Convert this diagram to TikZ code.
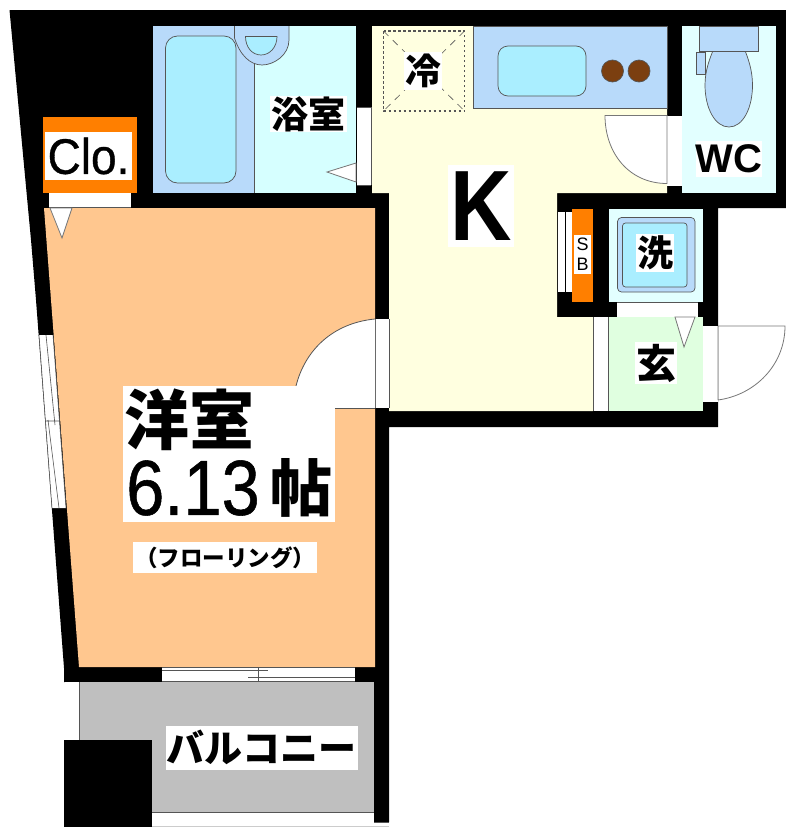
\documentclass[tikz,border=0pt]{standalone}
\usepackage{fontspec}
\setmainfont{Liberation Sans}
\newfontfamily\jp{Noto Sans CJK JP}
\newfontfamily\heavy[FakeBold=0.7]{Liberation Sans}
\definecolor{wall}{HTML}{000000}
\definecolor{floorO}{HTML}{FFC78F}
\definecolor{clo}{HTML}{FF7F00}
\definecolor{balc}{HTML}{BFBFBF}
\definecolor{kit}{HTML}{FFFFE0}
\definecolor{entry}{HTML}{E0FFE0}
\definecolor{fix}{HTML}{B8DAFA}
\definecolor{water}{HTML}{AAEEFF}
\definecolor{wet}{HTML}{D6FFFF}
\definecolor{edge}{HTML}{555555}
\definecolor{burner}{HTML}{7B3F10}
\tikzset{
  lab/.style={fill=white,inner sep=0pt,text=black,align=center},
  fx/.style={draw=edge,line width=0.7pt},
  door/.style={fill=white,draw=edge!80,line width=0.8pt},
  thin/.style={draw=edge,line width=0.6pt},
}
\newcommand{\fsz}[1]{\fontsize{#1}{#1}\selectfont}
\begin{document}
\begin{tikzpicture}[x=1pt,y=-1pt]
\useasboundingbox (0,0) rectangle (786,827);
\fill[white] (0,0) rectangle (786,827);
% walls
\fill[wall] (9.5,10) -- (786,10) -- (786,208) -- (718,208) -- (718,427) -- (389,427) -- (389,822) -- (374,822) -- (374,682) -- (64,682) -- (64,668) -- (36,300) -- (31,240) -- cycle;
% balcony
\fill[balc] (79,682) rectangle (374,812);
\fill[wall] (64,740) rectangle (152,827);
\fill[white] (65,682) rectangle (79,740);
\draw[thin] (79,682) -- (79,740);
\fill[white] (152,813) rectangle (374,826);
\draw[thin] (152,812.5) -- (374,812.5);
\draw[thin] (374,822.5) -- (389,822.5);
\draw[edge!30,line width=0.6pt] (152,826) -- (389,826);
% western room
\fill[floorO] (44,208) -- (375,208) -- (375,667) -- (79,667) -- cycle;
% left window
\fill[white] (39,335) -- (53,335) -- (66,508) -- (52,508) -- cycle;
\draw[thin] (39,335) -- (52,508) (53,335) -- (66,508) (46,335) -- (55,425) (48,420) -- (59,508) (45,421) -- (60,421);
% bottom window
\fill[white] (161.5,667) rectangle (354.5,682);
\draw[thin] (161.5,667.5) -- (354.5,667.5) (161.5,681.5) -- (354.5,681.5) (161.5,670.5) -- (268,670.5) (248,677.5) -- (354.5,677.5) (258,667) -- (258,682);
% bath
\fill[wet] (152.7,26) rectangle (356,193);
\fill[fix] (152.7,26) rectangle (254.3,193);
\draw[thin] (254.3,62) -- (254.3,193);
\fill[fix,draw=edge,line width=0.7pt] (234.5,26) -- (234.5,38) .. controls (240,55) and (250,65) .. (262,65) .. controls (274,65) and (289,55) .. (289,40) -- (289,26);
\fill[water,draw=edge,line width=0.7pt] (245.5,36.5) -- (277,36.5) .. controls (277,47) and (270,55) .. (261,55) .. controls (252,55) and (245.5,47) .. (245.5,36.5) -- cycle;
\draw[fx,fill=water,rounded corners=12pt] (165.5,36) rectangle (236,183);
% kitchen
\fill[kit] (372,26) -- (667,26) -- (667,193) -- (557,193) -- (557,317) -- (593,317) -- (593,411) -- (389,411) -- (389,193) -- (372,193) -- cycle;
\fill[wall] (360,185) rectangle (372,193);
\fill[fix,draw=edge,line width=0.6pt] (473.5,26) -- (667,26) -- (667,108.5) -- (473.5,108.5) -- cycle;
\draw[fx,fill=water,rounded corners=10pt] (498,46) rectangle (586,96);
\draw[fx,fill=burner] (612.5,71) circle (11);
\draw[fx,fill=burner] (639,71) circle (11);
\draw[edge,line width=1.1pt,dash pattern=on 2.5pt off 2.5pt] (383.5,31) rectangle (464.5,111);
\draw[edge,line width=0.6pt,dash pattern=on 7pt off 6pt] (383.5,31) -- (464.5,111) (464.5,31) -- (383.5,111);
% bath door
\fill[white] (357,107) rectangle (371,185);
\draw[thin] (371.5,107) -- (371.5,185) (357,107) -- (371,107) (357,185) -- (371,185);
\draw[door] (356,163) -- (327,172) -- (356,182) -- cycle;
% WC
\fill[wet!70!white] (681.7,26) rectangle (776,193);
\draw[fx,fill=fix] (729,127) .. controls (715,127) and (705,108) .. (705,85) .. controls (705,70) and (710,58) .. (714,48) -- (744,48) .. controls (748,58) and (752.5,70) .. (752.5,85) .. controls (752.5,108) and (743,127) .. (729,127) -- cycle;
\draw[fx,fill=fix] (699.5,26) rectangle (758.5,51);
\draw[fx,fill=fix] (696,52.5) rectangle (705.5,74.5);
\fill[white] (667,115.5) rectangle (681.7,186);
\draw[door] (667,115.5) -- (605,115.5) .. controls (605,153) and (629,183.5) .. (667,183.5) -- cycle;
% closet
\fill[clo] (43,117) rectangle (137,193);
\fill[white] (48.5,193) rectangle (131,207.5);
\draw[thin] (48.5,207.5) -- (131,207.5);
\draw[door] (50,208) -- (72,208) -- (62,238) -- cycle;
% sb
\fill[white] (558,212) rectangle (565,291.5);
\fill[white] (566,212) rectangle (571.5,291.5);
\fill[clo] (572,208.5) rectangle (593,302);
% wash room
\fill[wet!70!white] (608.7,208.5) rectangle (703,301.7);
\draw[fx,fill=fix,rounded corners=4pt] (617.5,217.5) rectangle (695,292);
\draw[fx,fill=water,rounded corners=3pt] (622.5,223) rectangle (687,287);
\fill[white] (617,302) rectangle (698,317);
\draw[thin] (617,302.5) -- (698,302.5);
% genkan
\fill[entry] (608.5,317) rectangle (703,411);
\fill[white] (593,317) rectangle (608,411);
\draw[thin] (593,317) -- (593,411) (608.3,317) -- (608.3,411);
\draw[door] (675,317) -- (695,317) -- (684,347) -- cycle;
\fill[white] (703,326) rectangle (718,401.5);
\draw[door,fill=none] (718,326) -- (785,326) .. controls (785,365) and (755,395) .. (718,400) (718,326) -- (718,400);
% room door and label area
\fill[white] (375,319) rectangle (389,408);
\draw[thin] (375,319) -- (375,408) (389,319) -- (389,408);
\fill[white] (375,319) .. controls (333,323) and (305,350) .. (296,386) -- (296,408) -- (375,408) -- cycle;
\draw[edge,line width=0.8pt] (375,319) .. controls (333,323) and (305,350) .. (296,386);
\draw[edge,line width=0.6pt] (335,408) -- (375,408);
\fill[white] (122.5,386) rectangle (335,522);
% labels
\node[lab,minimum width=87pt,minimum height=48pt] (clolab) at (88.5,156) {\fsz{50}\heavy\scalebox{.92}[1]{Clo.}};
\node[lab,minimum width=77pt,minimum height=35pt,font=\jp\bfseries] (bath) at (308.5,114) {\fsz{37}浴室};
\node[lab,minimum width=38pt,minimum height=38pt,font=\jp\bfseries] (fridge) at (423,71) {\fsz{36}冷};
\node[lab,minimum width=66pt,minimum height=82pt,font=\bfseries] (kitchen) at (481,206) {\fsz{100}\scalebox{.85}[1]{K}};
\node[lab,minimum width=66pt,minimum height=36pt,font=\bfseries] (wc) at (729,159) {\fsz{40}WC};
\fill[white] (574,235) rectangle (591,274);
\node[inner sep=0pt] (sbs) at (582.5,244.5) {\fsz{18}S};
\node[inner sep=0pt] (sbb) at (582.5,264.5) {\fsz{18}B};
\node[lab,minimum width=38pt,minimum height=38pt,font=\jp\bfseries] (wash) at (655,253) {\fsz{36}洗};
\node[lab,minimum width=42pt,minimum height=42pt,font=\jp\bfseries] (entrylab) at (656,363) {\fsz{40}玄};
\node[inner sep=0pt,font=\jp\bfseries] (room) at (189,420) {\fsz{65}洋室};
\node[inner sep=0pt] (area) at (193,488) {\fsz{78}\heavy\scalebox{.88}[1]{6.13}};
\node[inner sep=0pt,font=\jp\bfseries] (tatami) at (301,488) {\fsz{62}帖};
\node[lab,minimum width=184pt,minimum height=31pt,font=\jp\bfseries] (floorlab) at (225,557.5) {\fsz{22.5}（フローリング）};
\node[lab,minimum width=192pt,minimum height=44pt,font=\jp\bfseries] (balcony) at (261.5,747.5) {\fsz{38}バルコニー};
\end{tikzpicture}
\end{document}
